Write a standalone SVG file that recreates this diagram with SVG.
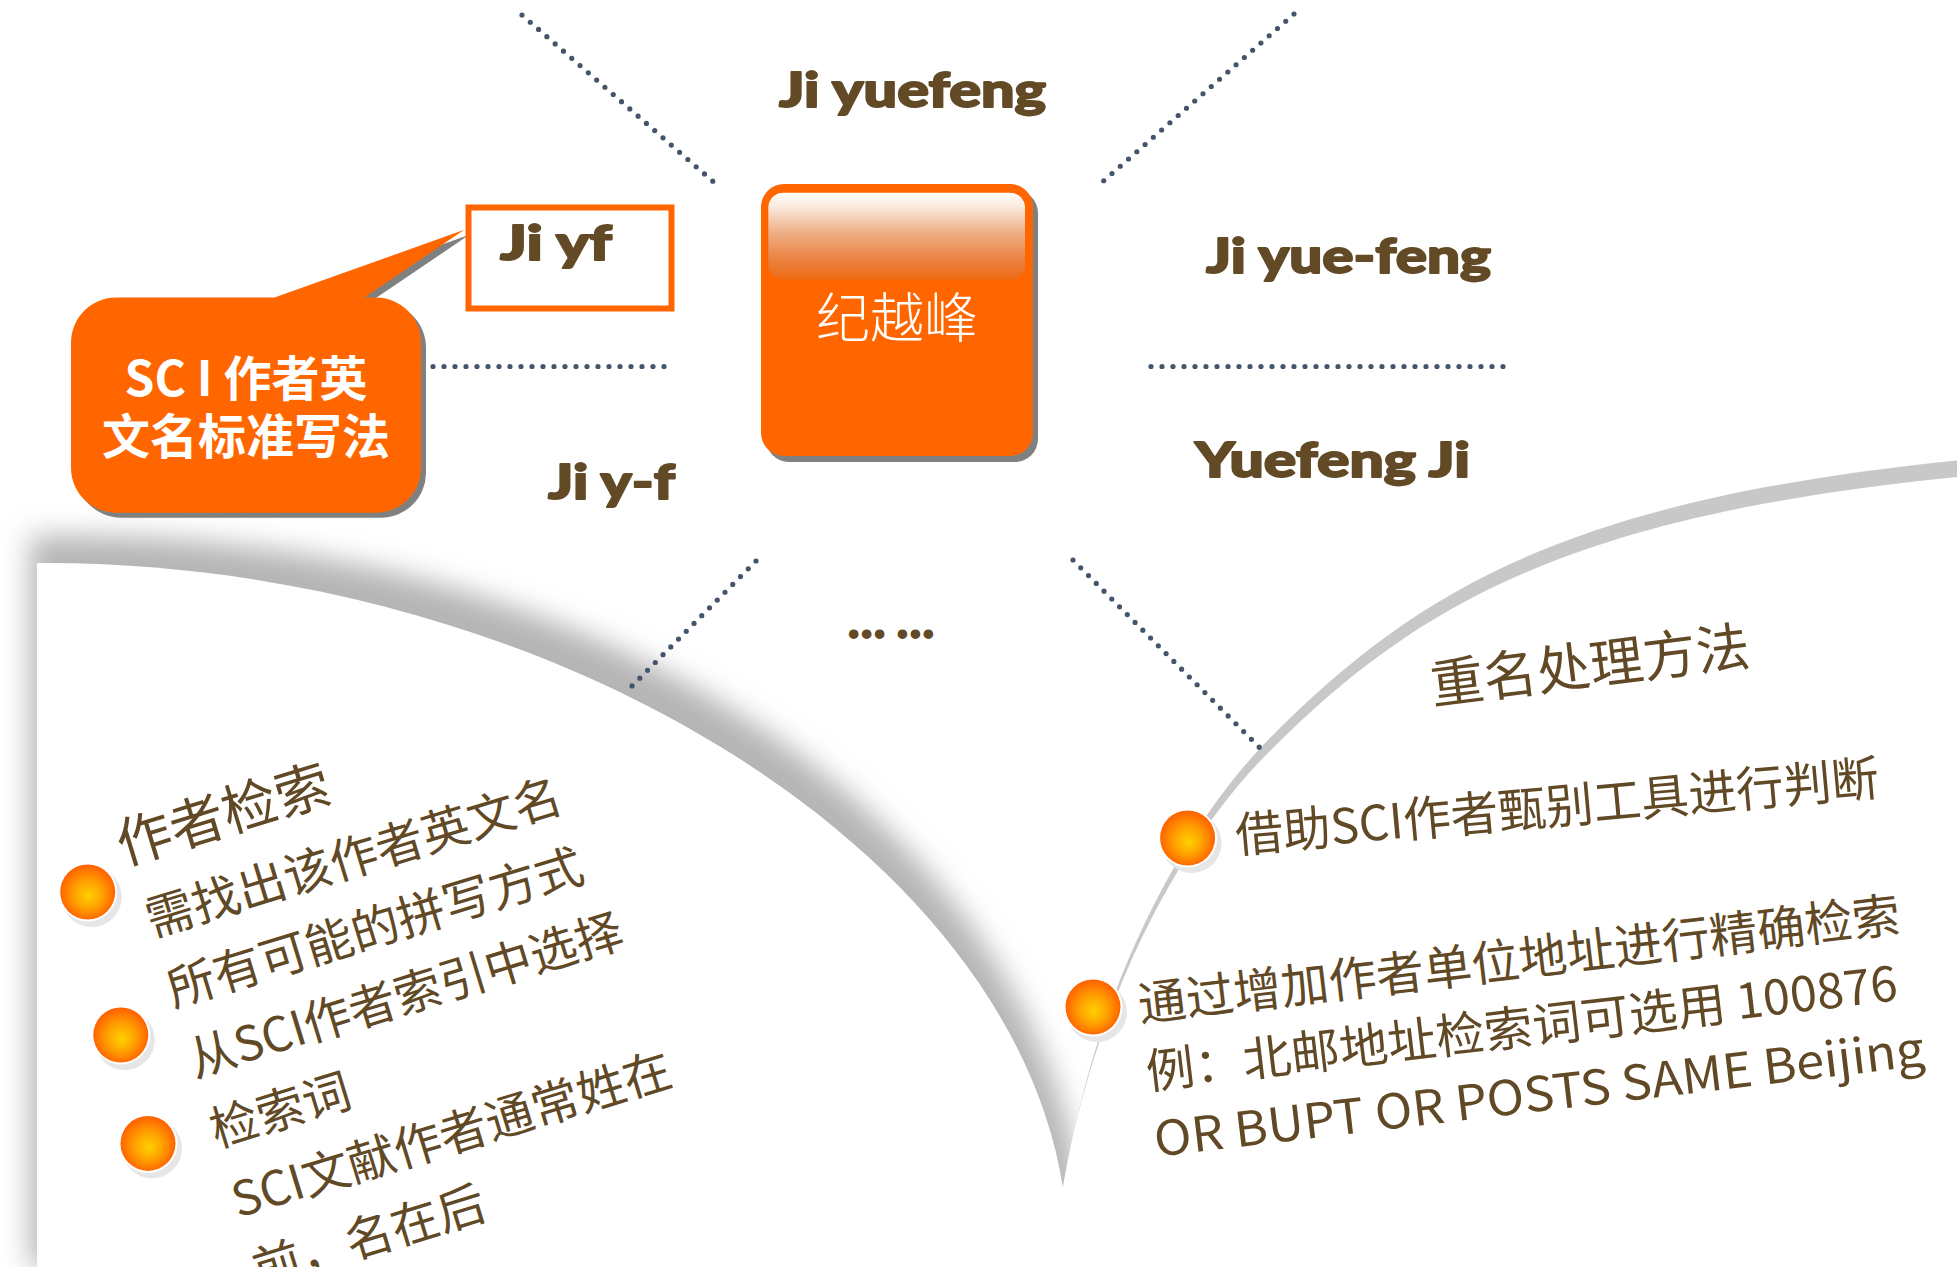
<svg xmlns="http://www.w3.org/2000/svg" width="1957" height="1267" viewBox="0 0 1957 1267">
<defs>
<style>
.lbl{font-family:"Lato","Liberation Sans",sans-serif;font-weight:900;font-size:47px;fill:#634A26;stroke:#634A26;stroke-width:1.8;stroke-linejoin:round}
.cjk{font-family:"Noto Sans CJK SC","Noto Sans",sans-serif;fill:#614926;font-weight:400}
.dot{stroke:#44546A;stroke-width:5.2;stroke-linecap:round;stroke-dasharray:0 11;fill:none}
.wt{font-family:"Noto Sans CJK SC","Noto Sans",sans-serif;fill:#FFFFFF}
</style>
<linearGradient id="hl" x1="0" y1="0" x2="0" y2="1">
<stop offset="0" stop-color="#FFFFFF"/>
<stop offset="0.15" stop-color="#FBEBE0"/>
<stop offset="0.45" stop-color="#EFB088"/>
<stop offset="0.75" stop-color="#EA8444"/>
<stop offset="1" stop-color="#EE6A12"/>
</linearGradient>
<radialGradient id="ball" cx="0.5" cy="0.52" r="0.5" fx="0.52" fy="0.58">
<stop offset="0" stop-color="#FFD000"/>
<stop offset="0.5" stop-color="#FFA200"/>
<stop offset="1" stop-color="#FF6400"/>
</radialGradient>
<filter id="blur" x="-10%" y="-10%" width="120%" height="120%"><feGaussianBlur stdDeviation="14"/></filter>
<g id="bul">
<circle cx="4" cy="5" r="30" fill="#E6E6E6"/>
<circle r="29.5" fill="#FFFFFF"/>
<circle r="27.5" fill="url(#ball)"/>
</g>
</defs>
<rect width="1957" height="1267" fill="#FFFFFF"/>

<g id="background">
<path d="M 30 1267 L 30 536 C 580 520, 1075 820, 1090 1267 Z" fill="#B5B5B5" filter="url(#blur)"/>
<path d="M 37 1267 L 37 563 C 540 560, 1010 845, 1063 1188 L 1070 1267 Z" fill="#FFFFFF"/>
<path d="M 1957 477 C 1577 515, 1418 600, 1264 757 C 1173 849.8, 1071.4 1037, 1053 1267 L 1957 1267 Z" fill="#C8C8C8" transform="translate(4 -17)"/>
<path d="M 1957 477 C 1577 515, 1418 600, 1264 757 C 1173 849.8, 1071.4 1037, 1053 1267 L 1957 1267 Z" fill="#FFFFFF"/>
</g>

<g id="connectors">
<line class="dot" x1="522" y1="15" x2="716" y2="184"/>
<line class="dot" x1="1294" y1="14" x2="1100" y2="184"/>
<line class="dot" x1="422" y1="366.5" x2="669" y2="366.5"/>
<line class="dot" x1="1151" y1="366.5" x2="1511" y2="366.5"/>
<line class="dot" x1="756" y1="561" x2="630" y2="688"/>
<line class="dot" x1="1073" y1="560" x2="1265" y2="753"/>
</g>

<g id="node-center">
<rect x="766" y="190" width="272" height="272" rx="23" fill="#808080"/>
<rect x="761" y="184" width="272" height="272" rx="23" fill="#FF6600"/>
<rect x="768.3" y="192.7" width="256.7" height="87.3" rx="15" fill="url(#hl)"/>
<text class="wt" x="897" y="338" text-anchor="middle" font-size="54" font-weight="300">纪越峰</text>
</g>

<g id="node-callout">
<path transform="translate(5 5)" fill="#808080" d="M 116 297.6 L 274.5 297.6 L 464.3 229.8 L 364.3 297.6 L 376 297.6 A 45 45 0 0 1 421 342.6 L 421 467.7 A 45 45 0 0 1 376 512.7 L 116 512.7 A 45 45 0 0 1 71 467.7 L 71 342.6 A 45 45 0 0 1 116 297.6 Z"/>
<path fill="#FF6600" d="M 116 297.6 L 274.5 297.6 L 464.3 229.8 L 364.3 297.6 L 376 297.6 A 45 45 0 0 1 421 342.6 L 421 467.7 A 45 45 0 0 1 376 512.7 L 116 512.7 A 45 45 0 0 1 71 467.7 L 71 342.6 A 45 45 0 0 1 116 297.6 Z"/>
<text class="wt" x="246" y="396" text-anchor="middle" font-size="48" font-weight="700">SC I 作者英</text>
<text class="wt" x="246" y="454" text-anchor="middle" font-size="48" font-weight="700">文名标准写法</text>
</g>

<g id="node-jiyf">
<rect x="468.5" y="207.5" width="203" height="101" fill="#FFFFFF" stroke="#FF6600" stroke-width="6"/>
<text class="lbl" x="500" y="260" textLength="112" lengthAdjust="spacingAndGlyphs">Ji yf</text>
</g>

<g id="label-jiyuefeng"><text class="lbl" x="779" y="107" textLength="267" lengthAdjust="spacingAndGlyphs">Ji yuefeng</text></g>
<g id="label-jiyue-feng"><text class="lbl" x="1206" y="273" textLength="285" lengthAdjust="spacingAndGlyphs">Ji yue-feng</text></g>
<g id="label-yuefengji"><text class="lbl" x="1195" y="477" textLength="275" lengthAdjust="spacingAndGlyphs">Yuefeng Ji</text></g>
<g id="label-jiy-f"><text class="lbl" x="548" y="499" textLength="127" lengthAdjust="spacingAndGlyphs">Ji y-f</text></g>
<g id="label-ellipsis"><text class="lbl" x="848" y="638" font-size="34" textLength="86" lengthAdjust="spacingAndGlyphs">… …</text></g>

<g id="bullets">
<g id="bullet-1"><use href="#bul" x="87.7" y="892"/></g>
<g id="bullet-2"><use href="#bul" x="120.8" y="1035"/></g>
<g id="bullet-3"><use href="#bul" x="148" y="1143.4"/></g>
<g id="bullet-4"><use href="#bul" x="1187.6" y="838"/></g>
<g id="bullet-5"><use href="#bul" x="1093" y="1007"/></g>
</g>

<g id="text-author-search" transform="translate(150.2 937.7) rotate(-17)">
<text class="cjk" x="-4" y="-77" font-size="55">作者检索</text>
<text class="cjk" x="2" y="0" font-size="48">需找出该作者英文名</text>
<text class="cjk" x="2" y="73.4" font-size="48">所有可能的拼写方式</text>
<text class="cjk" x="2" y="146.8" font-size="48" textLength="451" lengthAdjust="spacingAndGlyphs">从SCI作者索引中选择</text>
<text class="cjk" x="2" y="220.2" font-size="48">检索词</text>
<text class="cjk" x="2" y="293.6" font-size="48" textLength="457" lengthAdjust="spacingAndGlyphs">SCI文献作者通常姓在</text>
<text class="cjk" x="2" y="367" font-size="48">前，名在后</text>
</g>

<g id="text-duplicate-title" transform="translate(1433 704.2) rotate(-7.07)">
<text class="cjk" x="0" y="0" font-size="53.5">重名处理方法</text>
</g>
<g id="text-duplicate-1" transform="translate(1236.9 853) rotate(-5.16)">
<text class="cjk" x="0" y="0" font-size="48.4" textLength="646" lengthAdjust="spacingAndGlyphs">借助SCI作者甄别工具进行判断</text>
</g>
<g id="text-duplicate-2" transform="translate(1140.3 1021.7) rotate(-6.77)">
<text class="cjk" x="0" y="0" font-size="48" textLength="767" lengthAdjust="spacingAndGlyphs">通过增加作者单位地址进行精确检索</text>
<text class="cjk" x="0" y="68" font-size="48" textLength="756" lengthAdjust="spacingAndGlyphs">例：北邮地址检索词可选用 100876</text>
<text class="cjk" x="0" y="136" font-size="48" textLength="775" lengthAdjust="spacingAndGlyphs">OR BUPT OR POSTS SAME Beijing</text>
</g>
</svg>
